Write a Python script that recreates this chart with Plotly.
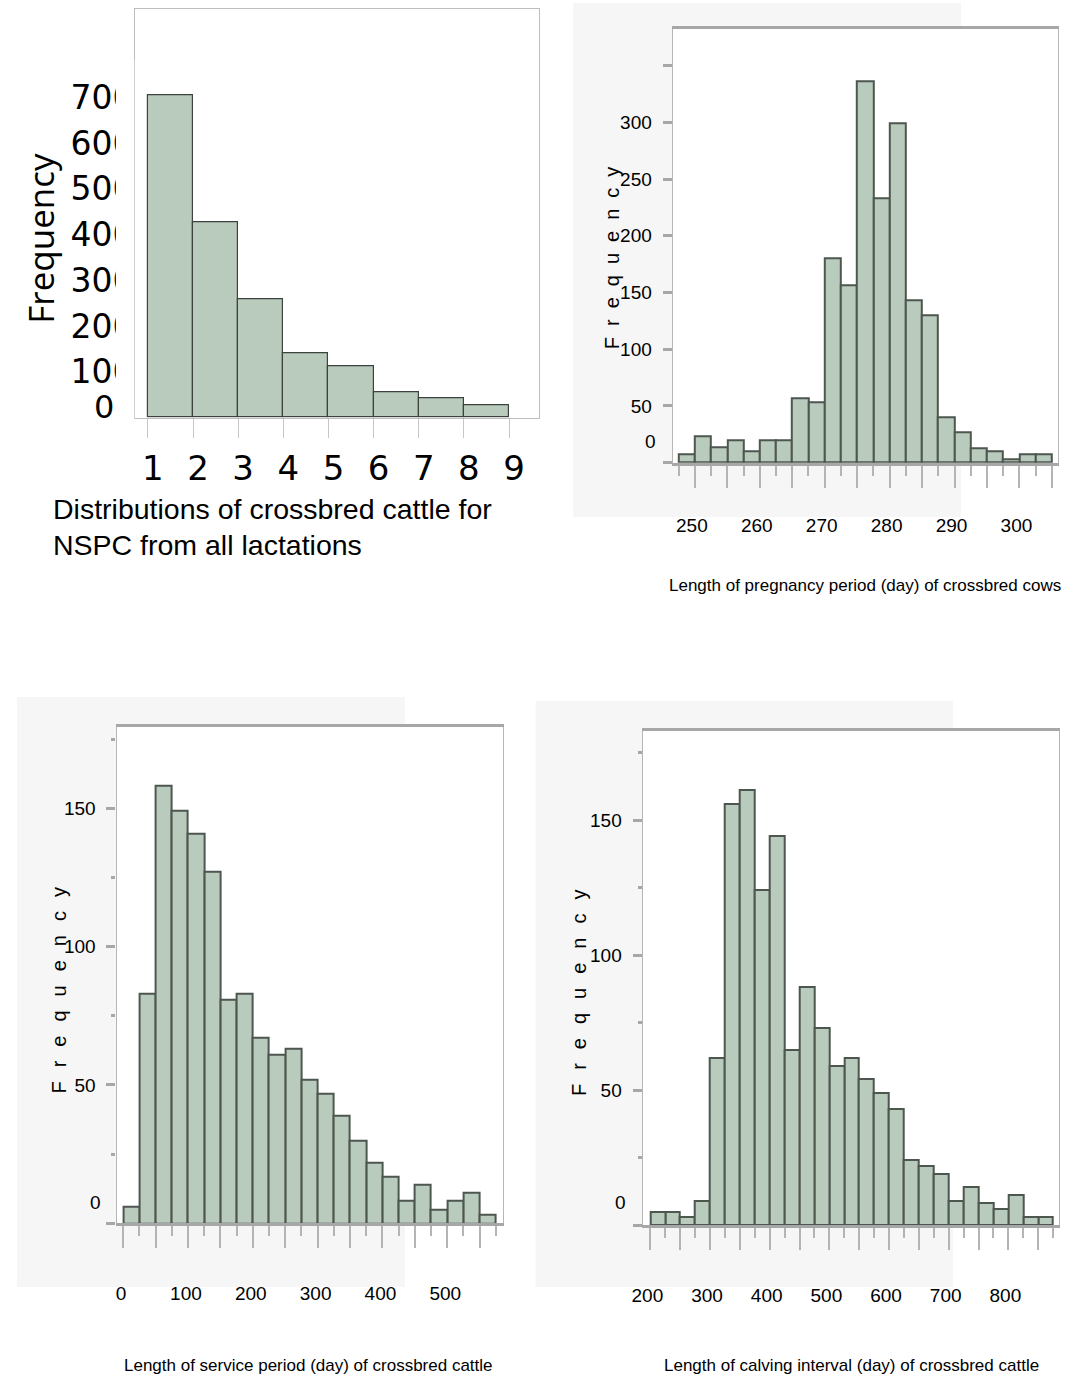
import plotly.graph_objects as go

W, H = 1065, 1390

# ---- data -------------------------------------------------------------
# Number of services per conception (NSPC), all lactations
nspc_bins = [1, 2, 3, 4, 5, 6, 7, 8]
nspc_freq = [705, 426, 258, 140, 112, 56, 42, 28]
nspc_xticks = [1, 2, 3, 4, 5, 6, 7, 8, 9]
nspc_yticks = [100, 200, 300, 400, 500, 600, 700]

# Length of pregnancy period (days), 2.5-day bins
preg_bins = [247.5, 250.0, 252.5, 255.0, 257.5, 260.0, 262.5, 265.0, 267.5, 270.0,
             272.5, 275.0, 277.5, 280.0, 282.5, 285.0, 287.5, 290.0, 292.5, 295.0,
             297.5, 300.0, 302.5]
preg_freq = [7, 23, 14, 20, 10, 20, 20, 57, 53, 180, 156, 336, 233, 299, 143, 130,
             40, 27, 13, 10, 3, 7, 7]
preg_xticks = [250, 255, 260, 265, 270, 275, 280, 285, 290, 295, 300, 305]
preg_xlabels = ["250", "", "260", "", "270", "", "280", "", "290", "", "300", ""]
preg_yticks = [0, 50, 100, 150, 200, 250, 300, 350]
preg_ylabels = ["", "50", "100", "150", "200", "250", "300", ""]

# Length of service period (days), 25-day bins
service_bins = [0, 25, 50, 75, 100, 125, 150, 175, 200, 225, 250, 275, 300, 325,
                350, 375, 400, 425, 450, 475, 500, 525, 550]
service_freq = [6, 83, 158, 149, 141, 127, 81, 83, 67, 61, 63, 52, 47, 39, 30, 22,
                17, 8, 14, 5, 8, 11, 3]
service_xticks = [0, 50, 100, 150, 200, 250, 300, 350, 400, 450, 500, 550]
service_xlabels = ["0", "", "100", "", "200", "", "300", "", "400", "", "500", ""]
service_yticks = [0, 50, 100, 150]
service_ylabels = ["", "50", "100", "150"]

# Length of calving interval (days), 25-day bins
calving_bins = [200, 225, 250, 275, 300, 325, 350, 375, 400, 425, 450, 475, 500, 525,
                550, 575, 600, 625, 650, 675, 700, 725, 750, 775, 800, 825, 850]
calving_freq = [5, 5, 3, 9, 62, 156, 161, 124, 144, 65, 88, 73, 59, 62, 54, 49, 43,
                24, 22, 19, 9, 14, 8, 6, 11, 3, 3]
calving_xticks = [200, 250, 300, 350, 400, 450, 500, 550, 600, 650, 700, 750, 800, 850]
calving_xlabels = ["200", "", "300", "", "400", "", "500", "", "600", "", "700", "",
                   "800", ""]
calving_yticks = [0, 50, 100, 150]
calving_ylabels = ["", "50", "100", "150"]

# ---- styling ----------------------------------------------------------
FILL = "#b9cbbc"
EDGE = "#4d564f"
AXIS_GREY = "#a7a7a7"
FRAME_GREY = "#b6b6b6"
PANEL_BG = "#f6f6f6"
SANS = "Liberation Sans, Arial, sans-serif"
WIDE = "DejaVu Sans, Verdana, sans-serif"


def fx(px):
    return px / W


def fy(py):
    return 1 - py / H


fig = go.Figure()

# bars
fig.add_trace(go.Bar(x=nspc_bins, y=nspc_freq, width=1, offset=0,
                     marker=dict(color=FILL, line=dict(color="#3c423d", width=1.2)),
                     xaxis="x", yaxis="y", hoverinfo="skip"))
fig.add_trace(go.Bar(x=preg_bins, y=preg_freq, width=2.5, offset=0,
                     marker=dict(color=FILL, line=dict(color=EDGE, width=2)),
                     xaxis="x2", yaxis="y2", hoverinfo="skip"))
fig.add_trace(go.Bar(x=service_bins, y=service_freq, width=25, offset=0,
                     marker=dict(color=FILL, line=dict(color=EDGE, width=2)),
                     xaxis="x3", yaxis="y3", hoverinfo="skip"))
fig.add_trace(go.Bar(x=calving_bins, y=calving_freq, width=25, offset=0,
                     marker=dict(color=FILL, line=dict(color=EDGE, width=2)),
                     xaxis="x4", yaxis="y4", hoverinfo="skip"))

layout = dict(
    width=W, height=H, margin=dict(l=0, r=0, t=0, b=0),
    paper_bgcolor="white", plot_bgcolor="rgba(0,0,0,0)",
    showlegend=False, bargap=0,
)

# panel 1: NSPC
layout["xaxis"] = dict(
    domain=[fx(125.3), fx(533.3)], anchor="y", range=[0.715, 9.658],
    tickmode="array", tickvals=nspc_xticks,
    ticks="outside", ticklen=19, tickwidth=1, tickcolor="#c6c6c6",
    showline=True, linewidth=1, linecolor="#bdbdbd", mirror=True,
    showgrid=False, zeroline=False,
    tickfont=dict(family=WIDE, size=34, color="black"),
    ticklabelshift=5, ticklabelstandoff=1,
)
layout["yaxis"] = dict(
    domain=[fy(417.7), fy(9.3)], anchor="x", range=[0, 892],
    tickmode="array", tickvals=nspc_yticks, ticktext=[str(v) for v in nspc_yticks],
    ticks="", showline=True, linewidth=1, linecolor="#bdbdbd", mirror=True,
    showgrid=False, zeroline=False,
    tickfont=dict(family=WIDE, size=33, color="black"),
    ticklabelstandoff=-6,
)


def hist_axes(n, xdom, ydom, xrange, yrange, xt, xl, yt, yl, xminor, yminor,
              xshift, xstand, ystand):
    xa = dict(
        domain=[fx(xdom[0]), fx(xdom[1])], anchor="y%d" % n, range=xrange,
        tickmode="array", tickvals=xt, ticktext=xl,
        ticks="outside", ticklen=22, tickwidth=1.5, tickcolor="#b4b4b4",
        minor=dict(tick0=xminor[0], dtick=xminor[1], ticks="outside", ticklen=10,
                   tickwidth=1.5, tickcolor="#b4b4b4", showgrid=False),
        showline=True, linewidth=3, linecolor=AXIS_GREY, mirror=True,
        showgrid=False, zeroline=False,
        tickfont=dict(family=SANS, size=19, color="black"),
        ticklabelshift=xshift, ticklabelstandoff=xstand,
    )
    ya = dict(
        domain=[fy(ydom[1]), fy(ydom[0])], anchor="x%d" % n, range=yrange,
        tickmode="array", tickvals=yt, ticktext=yl,
        ticks="outside", ticklen=9, tickwidth=3, tickcolor=AXIS_GREY,
        showline=True, linewidth=1.4, linecolor=FRAME_GREY, mirror=True,
        showgrid=False, zeroline=False,
        tickfont=dict(family=SANS, size=19, color="black"),
        ticklabelstandoff=ystand,
    )
    if yminor:
        ya["minor"] = dict(tick0=0, dtick=yminor, ticks="outside", ticklen=4,
                           tickwidth=3, tickcolor=AXIS_GREY, showgrid=False)
    layout["xaxis%d" % n] = xa
    layout["yaxis%d" % n] = ya


hist_axes(2, (668.7, 1058.3), (29.3, 462.7), [246.6, 306.0], [0, 382],
          preg_xticks, preg_xlabels, preg_yticks, preg_ylabels, (247.5, 2.5), None,
          -3, 21, 7)
hist_axes(3, (106.7, 497.3), (726.7, 1223.3), [-10.1, 586.3], [0, 179.5],
          service_xticks, service_xlabels, service_yticks, service_ylabels, (0, 25), 25,
          -2, 29, 7)
hist_axes(4, (638.3, 1058.8), (731, 1225), [187.2, 884.6], [0, 183],
          calving_xticks, calving_xlabels, calving_yticks, calving_ylabels, (200, 25), 25,
          -3, 29, 7)

# panel backgrounds (grey card, white plotting area on top)
shapes = []
for (x0, y0, x1, y1) in [(568, 3, 960, 517), (6, 697, 398, 1287), (530, 701, 952, 1287)]:
    shapes.append(dict(type="rect", xref="paper", yref="paper", layer="below",
                       x0=fx(x0), x1=fx(x1), y0=fy(y1), y1=fy(y0),
                       fillcolor=PANEL_BG, line=dict(width=0)))
for (x0, y0, x1, y1) in [(668.7, 29.3, 1058.3, 462.7), (106.7, 726.7, 497.3, 1223.3),
                         (638.3, 731, 1058.8, 1225)]:
    shapes.append(dict(type="rect", xref="paper", yref="paper", layer="below",
                       x0=fx(x0), x1=fx(x1), y0=fy(y1), y1=fy(y0),
                       fillcolor="white", line=dict(width=0)))
# NSPC count labels are cut off just left of the frame
shapes.append(dict(type="rect", xref="paper", yref="paper", layer="above",
                   x0=fx(106), x1=fx(124.6), y0=fy(432), y1=fy(60),
                   fillcolor="white", line=dict(width=0)))
layout["shapes"] = shapes

ann = []


def text(x, y, s, size, family, angle=0, xanchor="center"):
    ann.append(dict(x=fx(x), y=fy(y), xref="paper", yref="paper", text=s,
                    showarrow=False, textangle=angle, xanchor=xanchor,
                    yanchor="middle", font=dict(family=family, size=size, color="black")))


# panel 1 texts
text(29, 238, "Frequency", 35, "Open Sans, Noto Sans, sans-serif", angle=-90)
text(94, 407.5, "0", 32, WIDE)
text(40, 509, "Distributions of crossbred cattle for", 28.5, SANS, xanchor="left")
text(40, 545, "NSPC from all lactations", 28.5, SANS, xanchor="left")

# histogram panels
text(608, 252.5, '<span style="letter-spacing:11px">Frequency</span>', 20, SANS, angle=-90)
text(48, 983, '<span style="letter-spacing:14px">Frequency</span>', 20, SANS, angle=-90)
text(574, 986, '<span style="letter-spacing:14px">Frequency</span>', 20, SANS, angle=-90)

text(646, 441.7, "0", 19, SANS)
text(85, 1202.3, "0", 19, SANS)
text(615.5, 1202, "0", 19, SANS)

text(863, 585, "Length of pregnancy period (day) of crossbred cows", 17, SANS)
text(301, 1365, "Length of service period (day) of crossbred cattle", 17, SANS)
text(849, 1365, "Length of calving interval (day) of crossbred cattle", 17, SANS)

layout["annotations"] = ann
fig.update_layout(**layout)

fig.write_html("out.html", config={"displayModeBar": False})
